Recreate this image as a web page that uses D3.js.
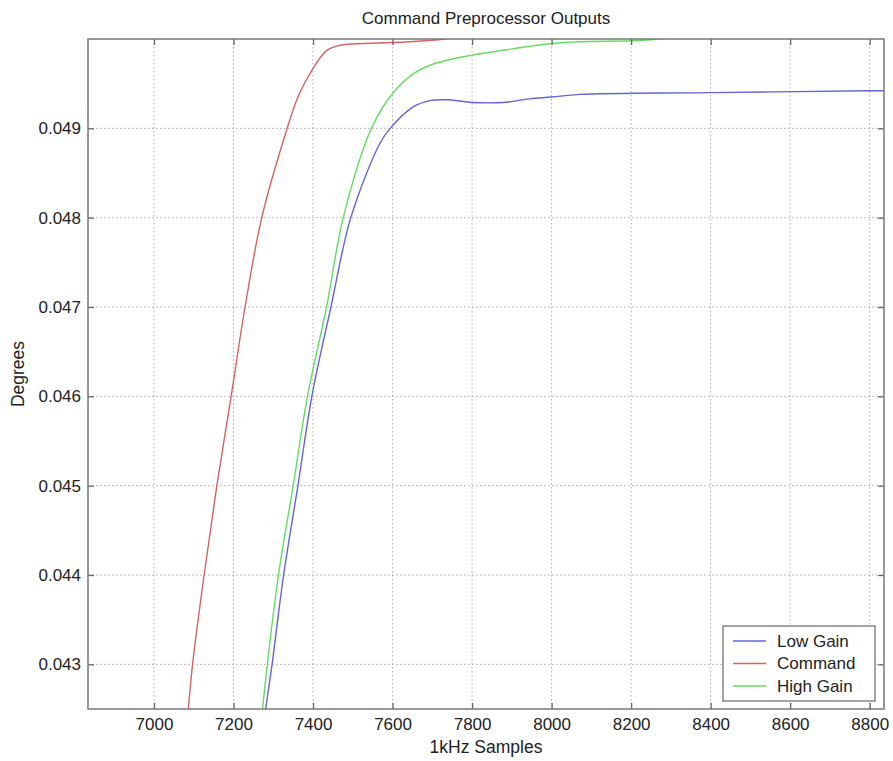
<!DOCTYPE html>
<html>
<head>
<meta charset="utf-8">
<script src="https://cdn.jsdelivr.net/npm/d3@7"></script>
<style>
  body { margin: 0; background: #fff; }
  svg { font-family: "Liberation Sans", Arial, sans-serif; }
</style>
</head>
<body>
<svg id="chart" width="893" height="761"></svg>
<script>
// ── Data ──────────────────────────────────────────────────────────────────
const xTicks = [7000, 7200, 7400, 7600, 7800, 8000, 8200, 8400, 8600, 8800];
const yTicks = [0.043, 0.044, 0.045, 0.046, 0.047, 0.048, 0.049];

const cmdX = [7080, 7086, 7097, 7126, 7158, 7194, 7229, 7271, 7335, 7362, 7400, 7434, 7468, 7526, 7600, 7680, 7730, 7760];
const cmdY = [0.0423, 0.0425, 0.043, 0.044, 0.045, 0.046, 0.047, 0.048, 0.049, 0.04935, 0.04967, 0.04987, 0.04993, 0.04995, 0.04996, 0.04998, 0.05, 0.05002];

const highX = [7268, 7273, 7285, 7313, 7350, 7386, 7434, 7476, 7547, 7600, 7652, 7703, 7800, 7902, 8000, 8071, 8200, 8270, 8300];
const highY = [0.0423, 0.0425, 0.043, 0.044, 0.045, 0.046, 0.047, 0.048, 0.049, 0.04939, 0.04961, 0.04972, 0.04982, 0.04989, 0.04995, 0.04997, 0.04998, 0.05, 0.05002];

const lowX = [7276, 7281, 7297, 7326, 7362, 7397, 7445, 7495, 7568, 7594, 7652, 7694, 7736, 7800, 7878, 7945, 8000, 8071, 8400, 8800, 8840];
const lowY = [0.0423, 0.0425, 0.043, 0.044, 0.045, 0.046, 0.047, 0.048, 0.04883, 0.049, 0.04924, 0.04931, 0.04932, 0.04929, 0.04929, 0.04933, 0.04935, 0.04938, 0.0494, 0.04942, 0.04942];

const seriesNames  = ['Low Gain', 'Command', 'High Gain'];
const seriesColors = ['#6464d8', '#d46464', '#64dc64'];
const seriesData   = [[lowX, lowY], [cmdX, cmdY], [highX, highY]];

// ── Layout ────────────────────────────────────────────────────────────────
const margin = { top: 39, right: 9, bottom: 52, left: 88 };
const W = 893, H = 761;
const iw = W - margin.left - margin.right;
const ih = H - margin.top - margin.bottom;

const svg = d3.select('#chart');
const g = svg.append('g').attr('transform', `translate(${margin.left},${margin.top})`);

const x = d3.scaleLinear().domain([6834, 8836]).range([0, iw]);
const y = d3.scaleLinear().domain([0.0425, 0.05]).range([ih, 0]);

// grid
g.append('g').selectAll('line').data(xTicks).join('line')
  .attr('x1', d => x(d)).attr('x2', d => x(d))
  .attr('y1', 0).attr('y2', ih)
  .attr('stroke', '#aaa').attr('stroke-width', 1).attr('stroke-dasharray', '1.5,2.5');
g.append('g').selectAll('line').data(yTicks).join('line')
  .attr('y1', d => y(d)).attr('y2', d => y(d))
  .attr('x1', 0).attr('x2', iw)
  .attr('stroke', '#aaa').attr('stroke-width', 1).attr('stroke-dasharray', '1.5,2.5');

// lines
g.append('clipPath').attr('id', 'clip')
  .append('rect').attr('width', iw).attr('height', ih);

const line = d3.line()
  .x(d => x(d[0])).y(d => y(d[1]))
  .curve(d3.curveCatmullRom.alpha(0.5));

seriesData.forEach(([xs, ys], i) => {
  g.append('path')
    .datum(xs.map((v, j) => [v, ys[j]]))
    .attr('clip-path', 'url(#clip)')
    .attr('fill', 'none')
    .attr('stroke', seriesColors[i])
    .attr('stroke-width', 1.4)
    .attr('d', line);
});

// axes (MATLAB style: inward ticks on all four sides)
const fmtY = d3.format('.3f');
const styleAxis = sel => {
  sel.select('.domain').remove();
  sel.selectAll('line').attr('stroke', '#666').attr('stroke-width', 1.3);
  sel.selectAll('text').attr('fill', '#222').style('font-size', '17px');
};

g.append('g').attr('transform', `translate(0,${ih})`)
  .call(d3.axisBottom(x).tickValues(xTicks).tickFormat(d3.format('d')).tickSize(-6).tickPadding(9))
  .call(styleAxis);
g.append('g')
  .call(d3.axisTop(x).tickValues(xTicks).tickSize(-6).tickFormat(''))
  .call(styleAxis);
g.append('g')
  .call(d3.axisLeft(y).tickValues(yTicks).tickFormat(fmtY).tickSize(-6).tickPadding(7))
  .call(styleAxis);
g.append('g').attr('transform', `translate(${iw},0)`)
  .call(d3.axisRight(y).tickValues(yTicks).tickSize(-6).tickFormat(''))
  .call(styleAxis);

// frame
g.append('rect')
  .attr('width', iw).attr('height', ih)
  .attr('fill', 'none').attr('stroke', '#777').attr('stroke-width', 1.5);

// labels
svg.append('text')
  .attr('x', margin.left + iw / 2).attr('y', 24)
  .attr('text-anchor', 'middle')
  .style('font-size', '17px').attr('fill', '#222')
  .text('Command Preprocessor Outputs');

svg.append('text')
  .attr('x', margin.left + iw / 2).attr('y', 753)
  .attr('text-anchor', 'middle')
  .style('font-size', '17.5px').attr('fill', '#222')
  .text('1kHz Samples');

svg.append('text')
  .attr('transform', `translate(24,${margin.top + ih / 2}) rotate(-90)`)
  .attr('text-anchor', 'middle')
  .style('font-size', '17.5px').attr('fill', '#222')
  .text('Degrees');

// legend
const lg = svg.append('g').attr('transform', 'translate(723,626)');
lg.append('rect')
  .attr('width', 152).attr('height', 75)
  .attr('fill', '#fff').attr('stroke', '#666').attr('stroke-width', 1.2);
seriesNames.forEach((name, i) => {
  const row = lg.append('g').attr('transform', `translate(0,${15 + i * 22.5})`);
  row.append('line')
    .attr('x1', 10).attr('x2', 43)
    .attr('stroke', seriesColors[i]).attr('stroke-width', 1.4);
  row.append('text')
    .attr('x', 54).attr('dy', '0.35em')
    .style('font-size', '17px').attr('fill', '#222')
    .text(name);
});
</script>
</body>
</html>
